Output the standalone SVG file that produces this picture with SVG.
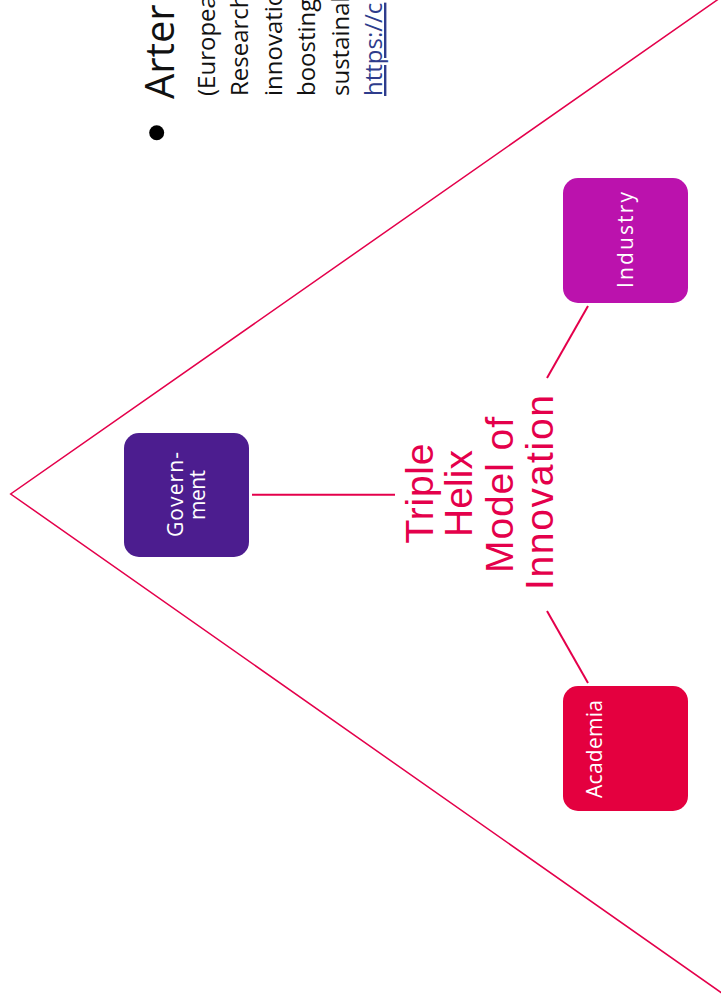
<svg xmlns="http://www.w3.org/2000/svg" width="721" height="1004" viewBox="0 0 721 1004">
  <style>
    .body { font-family: "Open Sans", "Liberation Sans", sans-serif; font-size: 24px; fill: #111111; }
    .title { font-family: "Open Sans", "Liberation Sans", sans-serif; font-size: 40px; fill: #111111; }
    .link { fill: #2E3C8C; text-decoration: underline; }
    .center { font-family: "Liberation Sans", Arial, sans-serif; font-size: 39px; fill: #E4004B; text-anchor: middle; }
    .lbl { font-family: "Open Sans", "Liberation Sans", sans-serif; font-size: 21px; fill: #FFFFFF; text-anchor: middle; }
    .conn { stroke: #E4004B; stroke-width: 2; fill: none; }
    .tri { stroke: #E4004B; stroke-width: 1.5; fill: none; }
  </style>
  <rect width="721" height="1004" fill="#FFFFFF"/>

  <g id="triangle">
    <polyline class="tri" points="722,-3.4 10.7,494 722,993.2"/>
  </g>

  <g id="bullet-text">
    <circle cx="156.7" cy="132.7" r="7.5" fill="#000000"/>
    <text class="title" transform="translate(174,99) rotate(-90)">Arter</text>
    <text class="body" transform="translate(214.5,96) rotate(-90)">(Europea</text>
    <text class="body" transform="translate(248,96) rotate(-90)">Research</text>
    <text class="body" transform="translate(281.5,96) rotate(-90)">innovatio</text>
    <text class="body" transform="translate(315,96) rotate(-90)">boosting</text>
    <text class="body" transform="translate(348.5,96) rotate(-90)">sustainab</text>
    <text class="body link" transform="translate(382,96) rotate(-90)">https://c</text>
  </g>

  <g id="connectors">
    <line class="conn" x1="252" y1="494.7" x2="395" y2="494.7"/>
    <line class="conn" x1="588" y1="306" x2="547" y2="378"/>
    <line class="conn" x1="588" y1="683" x2="547" y2="611"/>
  </g>

  <g id="center">
    <text class="center" transform="translate(433,493.5) rotate(-90)" textLength="100">Triple</text>
    <text class="center" transform="translate(472,493.5) rotate(-90)" textLength="87">Helix</text>
    <text class="center" transform="translate(513,495) rotate(-90)" textLength="156">Model of</text>
    <text class="center" transform="translate(553,492.5) rotate(-90)" textLength="195">Innovation</text>
  </g>

  <g id="government">
    <rect x="124" y="433" width="125" height="124" rx="15" fill="#4C1D8F"/>
    <text class="lbl" transform="translate(183,494.5) rotate(-90)" textLength="85">Govern-</text>
    <text class="lbl" transform="translate(205,495) rotate(-90)" textLength="50">ment</text>
  </g>

  <g id="industry">
    <rect x="563" y="178" width="125" height="125" rx="15" fill="#BB12AD"/>
    <text class="lbl" transform="translate(633,240) rotate(-90)" textLength="96">Industry</text>
  </g>

  <g id="academia">
    <rect x="563" y="686" width="125" height="125" rx="15" fill="#E4003F"/>
    <text class="lbl" transform="translate(602,749) rotate(-90)" textLength="98">Academia</text>
  </g>
</svg>
